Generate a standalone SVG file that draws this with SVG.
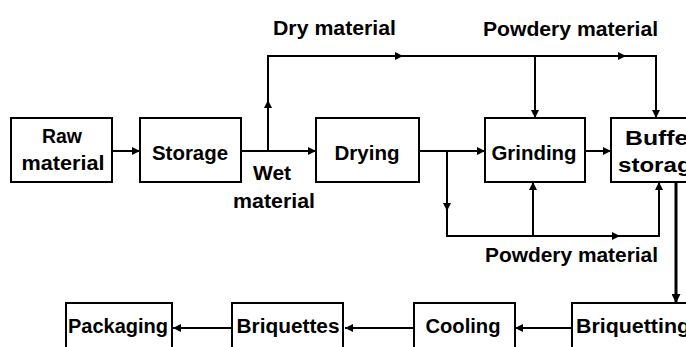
<svg xmlns="http://www.w3.org/2000/svg" width="686" height="347" viewBox="0 0 686 347">
<style>
  .box { fill: #fff; stroke: #000; stroke-width: 2; }
  .t { font-family: "Liberation Sans", Arial, sans-serif; font-weight: bold; font-size: 20px; fill: #000; }
  .c { text-anchor: middle; }
  .ln { fill: none; stroke: #000; stroke-width: 2; marker-end: url(#arr); }
  .thick { fill: none; stroke: #000; stroke-width: 3; marker-end: url(#arrB); }
  .pl { fill: none; stroke: #000; stroke-width: 2; }
</style>
<defs>
  <marker id="arr" markerUnits="userSpaceOnUse" viewBox="0 0 8 8" refX="8" refY="4" markerWidth="8" markerHeight="8" orient="auto">
    <path d="M0,0 L8,4 L0,8 z" fill="#000"/>
  </marker>
  <marker id="arrB" markerUnits="userSpaceOnUse" viewBox="0 0 8 8" refX="8" refY="4" markerWidth="10" markerHeight="9" orient="auto">
    <path d="M0,0 L8,4 L0,8 z" fill="#000"/>
  </marker>
</defs>
<rect width="686" height="347" fill="#fff"/>

<g id="connectors">
  <path class="ln" d="M112,151 H140"/>
  <path class="ln" d="M241,151 H316"/>
  <path class="ln" d="M268,151 V100"/>
  <path class="ln" d="M268,101 V56 H403"/>
  <path class="ln" d="M402,56 H626"/>
  <path class="ln" d="M625,56 H656 V118"/>
  <path class="ln" d="M535,56 V118"/>
  <path class="ln" d="M419,151 H485"/>
  <path class="ln" d="M447,151 V211"/>
  <path class="ln" d="M447,210 V236 H620"/>
  <path class="ln" d="M619,236 H659 V182"/>
  <path class="ln" d="M533,236 V182"/>
  <path class="ln" d="M585,151 H611"/>
  <path class="thick" d="M676,176 V303"/>
  <path class="ln" d="M572,328 H515"/>
  <path class="ln" d="M414,328 H345"/>
  <path class="ln" d="M232,328 H173"/>
</g>

<g id="raw-material">
  <rect class="box" x="11" y="118" width="101" height="64"/>
  <text class="t c" x="62" y="143" textLength="40" lengthAdjust="spacingAndGlyphs">Raw</text>
  <text class="t c" x="63" y="170" textLength="83" lengthAdjust="spacingAndGlyphs">material</text>
</g>
<g id="storage">
  <rect class="box" x="140" y="118" width="101" height="64"/>
  <text class="t c" x="190" y="160" textLength="76" lengthAdjust="spacingAndGlyphs">Storage</text>
</g>
<g id="drying">
  <rect class="box" x="316" y="118" width="103" height="64"/>
  <text class="t c" x="367" y="160" textLength="65" lengthAdjust="spacingAndGlyphs">Drying</text>
</g>
<g id="grinding">
  <rect class="box" x="485" y="118" width="100" height="64"/>
  <text class="t c" x="534" y="160" textLength="85" lengthAdjust="spacingAndGlyphs">Grinding</text>
</g>
<g id="buffer-storage">
  <rect class="box" x="611" y="118" width="101" height="64"/>
  <text class="t" x="625" y="145" textLength="73" lengthAdjust="spacingAndGlyphs">Buffer</text>
  <text class="t" x="618" y="172" textLength="87" lengthAdjust="spacingAndGlyphs">storage</text>
</g>
<g id="packaging">
  <rect class="box" x="66" y="303" width="106" height="60"/>
  <text class="t c" x="118" y="333" textLength="100" lengthAdjust="spacingAndGlyphs">Packaging</text>
</g>
<g id="briquettes">
  <rect class="box" x="232" y="303" width="111" height="60"/>
  <text class="t c" x="288" y="333" textLength="103" lengthAdjust="spacingAndGlyphs">Briquettes</text>
</g>
<g id="cooling">
  <rect class="box" x="414" y="303" width="101" height="60"/>
  <text class="t c" x="463" y="333" textLength="75" lengthAdjust="spacingAndGlyphs">Cooling</text>
</g>
<g id="briquetting">
  <rect class="box" x="572" y="303" width="130" height="60"/>
  <text class="t" x="576" y="333" textLength="114" lengthAdjust="spacingAndGlyphs">Briquetting</text>
</g>

<g id="labels">
  <text class="t c" x="334.5" y="35" textLength="123" lengthAdjust="spacingAndGlyphs">Dry material</text>
  <text class="t c" x="570.5" y="36" textLength="175" lengthAdjust="spacingAndGlyphs">Powdery material</text>
  <text class="t c" x="272" y="180" textLength="38" lengthAdjust="spacingAndGlyphs">Wet</text>
  <text class="t c" x="274" y="208" textLength="82" lengthAdjust="spacingAndGlyphs">material</text>
  <text class="t c" x="571.5" y="262" textLength="173" lengthAdjust="spacingAndGlyphs">Powdery material</text>
</g>
</svg>
